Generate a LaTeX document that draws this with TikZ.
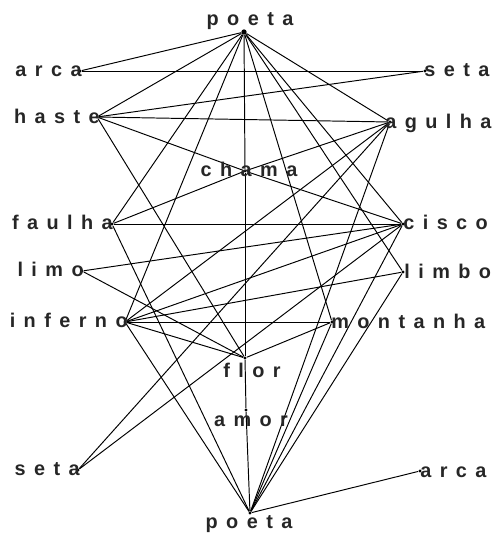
\documentclass[tikz,border=0pt]{standalone}
\usepackage{fontspec}
\setmainfont{Liberation Sans}
\usetikzlibrary{positioning}
\newlength\wordgap
\setlength\wordgap{4.8pt}
% letter-spaced words
\newcommand\spreadword[1]{\hspace{-\wordgap}\spreadloop#1\relax}
\def\spreadloop#1{\ifx#1\relax\else\hspace{\wordgap}#1\expandafter\spreadloop\fi}
\tikzset{
	vertex/.style={circle, fill=black, inner sep=0pt, minimum size=1.8pt},
	word/.style={font=\fontsize{11.3}{13}\selectfont\bfseries, text=black!85, inner sep=0pt, text height=8pt, text depth=2.2pt},
	wordleft/.style={word, anchor=east},
	wordright/.style={word, anchor=west},
	link/.style={draw, line width=0.55pt},
}
\begin{document}
\begin{tikzpicture}[x=0.02cm, y=-0.02cm]
	\useasboundingbox (0,0) rectangle (492,534);
	% vertices
	\node[vertex, minimum size=3pt] (poetaA) at (244,32) {};
	\node[vertex] (arcaA) at (80,71) {};
	\node[vertex] (setaA) at (425,71) {};
	\node[vertex] (haste) at (97,117) {};
	\node[vertex] (agulha) at (390,122) {};
	\node[vertex] (chama) at (245,171) {};
	\node[vertex] (faulha) at (112,224) {};
	\node[vertex] (cisco) at (403,224) {};
	\node[vertex] (limo) at (82,271) {};
	\node[vertex] (limbo) at (403,272) {};
	\node[vertex] (inferno) at (125,322) {};
	\node[vertex] (montanha) at (332,322) {};
	\node[vertex] (flor) at (245,358) {};
	\node[vertex] (amor) at (246,410) {};
	\node[vertex] (setaB) at (78,470) {};
	\node[vertex] (arcaB) at (420,471) {};
	\node[vertex] (poetaB) at (250,513) {};
	% links
	\foreach \a/\b in {poetaA/arcaA, poetaA/haste, poetaA/faulha, poetaA/inferno,
		poetaA/chama, chama/flor, flor/amor, amor/poetaB,
		poetaA/agulha, poetaA/montanha, poetaA/limbo, poetaA/cisco,
		arcaA/setaA, haste/setaA, haste/agulha, haste/chama, chama/cisco,
		faulha/chama, chama/agulha, haste/flor, faulha/cisco, faulha/poetaB,
		limo/cisco, limo/flor, inferno/cisco, inferno/limbo, inferno/montanha,
		inferno/flor, inferno/agulha, inferno/poetaB, agulha/poetaB,
		agulha/setaB, cisco/setaB, cisco/poetaB, limbo/poetaB,
		montanha/poetaB, montanha/flor, poetaB/arcaB}
		\draw[link] (\a) -- (\b);
	% words
	\node[word, anchor=south] (poetaAW) at (250,30) {\spreadword{poeta}};
	\node[wordleft] (arcaAW) at (82,71) {\spreadword{arca}};
	\node[wordright] (setaAW) at (424,71) {\spreadword{seta}};
	\node[wordleft] (hasteW) at (100,118) {\spreadword{haste}};
	\node[wordright] (agulhaW) at (385,123) {\spreadword{agulha}};
	\node[word] (chamaW) at (249,171) {\spreadword{chama}};
	\node[wordleft] (faulhaW) at (113,224) {\spreadword{faulha}};
	\node[wordright] (ciscoW) at (403,224) {\spreadword{cisco}};
	\node[wordleft] (limoW) at (84,271) {\spreadword{limo}};
	\node[wordright] (limboW) at (404,273) {\spreadword{limbo}};
	\node[wordleft] (infernoW) at (128,322) {\spreadword{inferno}};
	\node[wordright] (montanhaW) at (331,323) {\spreadword{montanha}};
	\node[word] (florW) at (252,372) {\spreadword{flor}};
	\node[word] (amorW) at (251,421) {\spreadword{amor}};
	\node[wordleft] (setaBW) at (80,470) {\spreadword{seta}};
	\node[wordright] (arcaBW) at (420,472) {\spreadword{arca}};
	\node[word] (poetaBW) at (249,523) {\spreadword{poeta}};
\end{tikzpicture}
\end{document}
